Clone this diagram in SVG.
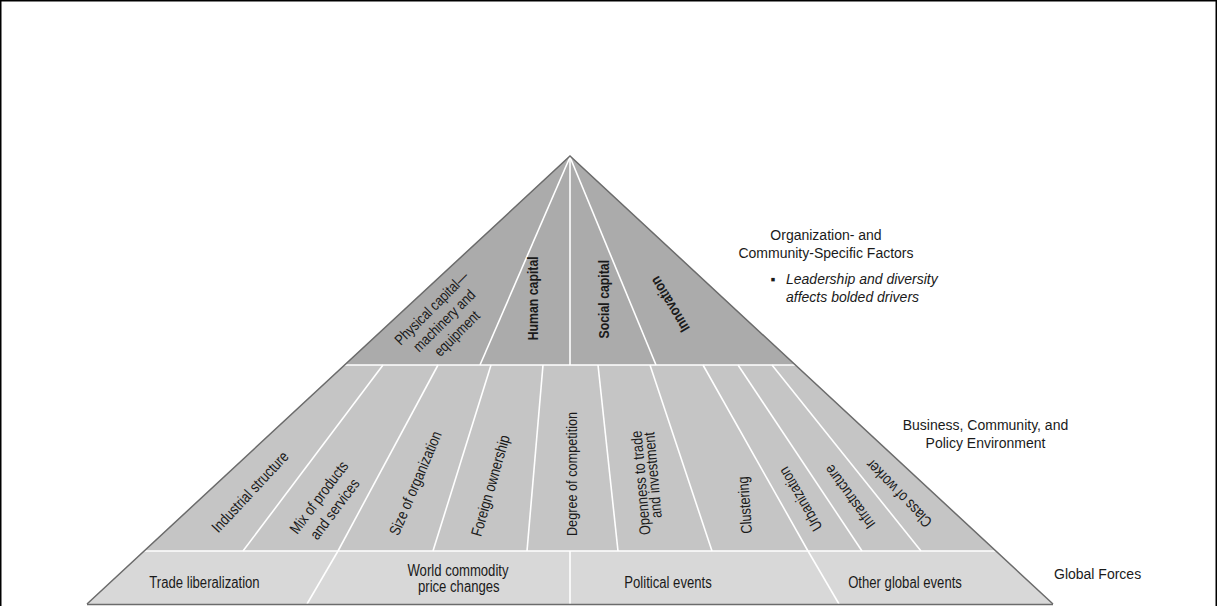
<svg xmlns="http://www.w3.org/2000/svg" width="1218" height="606" viewBox="0 0 1218 606">
<style>
.frame{fill:none;stroke:#000;stroke-width:1.5}
.t1{fill:#ababab}
.t2{fill:#c5c5c5}
.t3{fill:#d8d8d8}
.div{stroke:#fff;stroke-width:1.6;fill:none}
.edge{stroke:#6b6b6b;stroke-width:1.5;fill:none}
.pl{font-family:"Liberation Sans",Arial,sans-serif;font-size:15.5px;fill:#1a1a1a;text-anchor:middle}
.top{font-size:15px;font-weight:bold}
.top.n{font-weight:normal}
.bot{font-size:16px}
.lab{font-family:"Liberation Sans",Arial,sans-serif;font-size:14px;fill:#1a1a1a}
.it{font-style:italic}
</style>
<rect class="frame" x="0.75" y="0.75" width="1215.5" height="640"/>
<g id="tiers">
<polygon id="tier-top" class="t1" points="570,156 344.7,365 795.3,365"/>
<polygon id="tier-middle" class="t2" points="344.7,365 795.3,365 995.9,551 144.1,551"/>
<polygon id="tier-bottom" class="t3" points="144.1,551 995.9,551 1053,604 87,604"/>
</g>
<g id="connectors">
<line class="div" x1="344" y1="365" x2="796" y2="365"/>
<line class="div" x1="143" y1="551" x2="997" y2="551"/>
<line class="div" x1="570" y1="157" x2="480" y2="365"/>
<line class="div" x1="570" y1="157" x2="570" y2="365"/>
<line class="div" x1="570" y1="157" x2="656" y2="365"/>
<line class="div" x1="383" y1="365" x2="243" y2="551"/>
<line class="div" x1="438" y1="365" x2="338" y2="551"/>
<line class="div" x1="491" y1="365" x2="433" y2="551"/>
<line class="div" x1="543" y1="365" x2="527" y2="551"/>
<line class="div" x1="598" y1="365" x2="618" y2="551"/>
<line class="div" x1="650" y1="365" x2="712" y2="551"/>
<line class="div" x1="703" y1="365" x2="808" y2="551"/>
<line class="div" x1="738" y1="365" x2="862" y2="551"/>
<line class="div" x1="772" y1="365" x2="921" y2="551"/>
<line class="div" x1="338" y1="551" x2="307" y2="604"/>
<line class="div" x1="570" y1="551" x2="570" y2="604"/>
<line class="div" x1="808" y1="551" x2="839" y2="604"/>
<polyline class="edge" points="87,604 570,156 1053,604"/>
<line class="edge" x1="87" y1="604.5" x2="1053" y2="604.5"/>
</g>
<g id="physical-capital"><text class="pl top n" transform="translate(444.3,320.8) rotate(-45) scale(0.82,1)"><tspan x="0" y="-13">Physical capital—</tspan><tspan x="0" y="5">machinery and</tspan><tspan x="0" y="23">equipment</tspan></text></g>
<g id="human-capital"><text class="pl top" transform="translate(533,298.3) rotate(-90) scale(0.82,1)" y="5">Human capital</text></g>
<g id="social-capital"><text class="pl top" transform="translate(603.7,299.2) rotate(-90) scale(0.82,1)" y="5">Social capital</text></g>
<g id="innovation"><text class="pl top" transform="translate(670,304.3) rotate(-121) scale(0.82,1)" y="5">Innovation</text></g>
<g id="industrial-structure"><text class="pl" transform="translate(250.3,492) rotate(-47) scale(0.82,1)" y="5">Industrial structure</text></g>
<g id="mix-products"><text class="pl" transform="translate(319.2,497.5) rotate(-53) scale(0.82,1)" y="5">Mix of products</text><text class="pl" transform="translate(335,509.2) rotate(-53) scale(0.82,1)" y="5">and services</text></g>
<g id="size-organization"><text class="pl" transform="translate(415.7,483.3) rotate(-67) scale(0.82,1)" y="5">Size of organization</text></g>
<g id="foreign-ownership"><text class="pl" transform="translate(490.7,485.7) rotate(-74) scale(0.82,1)" y="5">Foreign ownership</text></g>
<g id="degree-competition"><text class="pl" transform="translate(572,474) rotate(-90) scale(0.82,1)" y="5">Degree of competition</text></g>
<g id="openness"><text class="pl" transform="translate(641,483) rotate(-95) scale(0.82,1)" y="5">Openness to trade</text><text class="pl" transform="translate(653,475) rotate(-95) scale(0.82,1)" y="5">and investment</text></g>
<g id="clustering"><text class="pl" transform="translate(745,505) rotate(-94) scale(0.82,1)" y="5">Clustering</text></g>
<g id="urbanization"><text class="pl" transform="translate(800.7,499) rotate(-120) scale(0.82,1)" y="5">Urbanization</text></g>
<g id="infrastructure"><text class="pl" transform="translate(850,496.7) rotate(-126) scale(0.82,1)" y="5">Infrastructure</text></g>
<g id="class-worker"><text class="pl" transform="translate(899,493.3) rotate(-134) scale(0.82,1)" y="5">Class of worker</text></g>
<g id="trade-liberalization"><text class="pl bot" transform="translate(204.5,587.5) scale(0.82,1)">Trade liberalization</text></g>
<g id="world-commodity"><text class="pl bot" transform="translate(458,576) scale(0.82,1)">World commodity</text><text class="pl bot" transform="translate(458.8,591.5) scale(0.82,1)">price changes</text></g>
<g id="political-events"><text class="pl bot" transform="translate(668,587.5) scale(0.82,1)">Political events</text></g>
<g id="other-global-events"><text class="pl bot" transform="translate(905,587.5) scale(0.82,1)">Other global events</text></g>
<g id="label-org"><text class="lab" x="826" y="239.5" text-anchor="middle">Organization- and</text><text class="lab" x="826" y="258" text-anchor="middle">Community-Specific Factors</text><text class="lab it"><tspan x="770.5" y="283.5" font-style="normal">▪</tspan><tspan x="786" y="283.5">Leadership and diversity</tspan><tspan x="786" y="301.5">affects bolded drivers</tspan></text></g>
<g id="label-business"><text class="lab" x="985.5" y="429.5" text-anchor="middle">Business, Community, and</text><text class="lab" x="985.5" y="448" text-anchor="middle">Policy Environment</text></g>
<g id="label-global"><text class="lab" x="1054" y="579">Global Forces</text></g>
</svg>
